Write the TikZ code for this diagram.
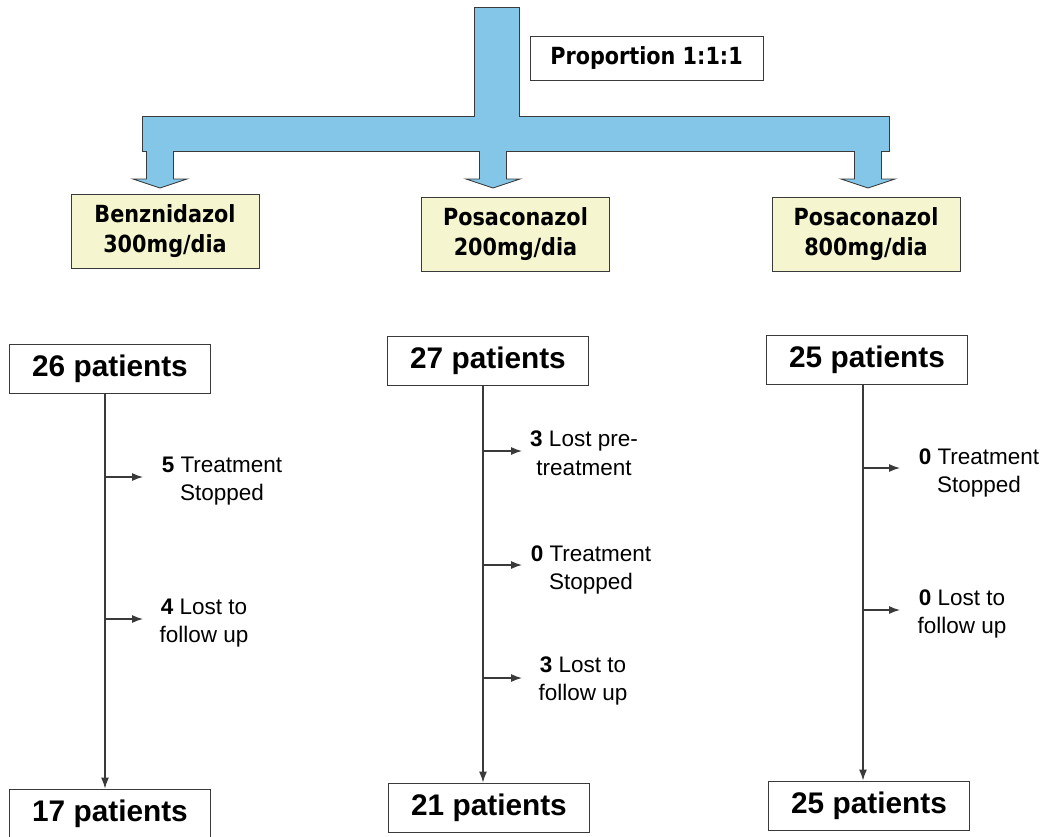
\documentclass[tikz,border=0pt]{standalone}
\usepackage{fontspec}
\setmainfont{Liberation Sans}
\newfontfamily\tah[FakeStretch=0.88]{DejaVu Sans}
\usetikzlibrary{arrows.meta}
\definecolor{barblue}{HTML}{84C6E8}
\definecolor{drugfill}{HTML}{F5F5CF}
\definecolor{edge}{HTML}{3A3A3A}
\tikzset{
  blueshape/.style={fill=barblue, draw=edge, line width=0.9pt, line join=miter},
  drugbox/.style={draw=edge, line width=1pt, fill=drugfill, minimum width=188pt, minimum height=74pt, inner sep=0pt, align=center, font=\tah\bfseries\fontsize{23.6}{30}\selectfont},
  propbox/.style={draw=edge, line width=1pt, fill=white, minimum width=233pt, minimum height=44pt, inner sep=0pt, font=\tah\bfseries\fontsize{23.6}{27}\selectfont},
  patbox/.style={draw=edge, line width=1pt, fill=white, minimum width=201pt, minimum height=49pt, inner sep=0pt, font=\bfseries\fontsize{29.8}{33}\selectfont},
  note/.style={align=center, inner sep=0pt, font=\fontsize{22.5}{28.5}\selectfont},
  flow/.style={draw=edge, line width=1.2pt, -{Latex[length=11pt,width=8pt]}},
}
\begin{document}
\begin{tikzpicture}[x=1pt,y=-1pt]
\useasboundingbox (0,0) rectangle (1043,836);
% big T
\draw[blueshape] (142,116) -- (474,116) -- (474,7) -- (519,7) -- (519,116) -- (889,116) -- (889,151) -- (142,151) -- cycle;
% block arrows
\foreach \c in {160,493,868}{
  \draw[blueshape] (\c-13.5,151) -- (\c-13.5,179) -- (\c-27,179) -- (\c,188) -- (\c+27,179) -- (\c+13.5,179) -- (\c+13.5,151);
}
\node[propbox] (prop) at (646.5,58) {Proportion 1:1:1};
% drug boxes
\node[drugbox] (d1) at (165,231.5) {Benznidazol\\300mg/dia};
\node[drugbox] (d2) at (515.5,234) {Posaconazol\\200mg/dia};
\node[drugbox] (d3) at (866,234) {Posaconazol\\800mg/dia};
% patient boxes
\node[patbox] (t1) at (110,368.5) {26 patients};
\node[patbox] (t2) at (488,361) {27 patients};
\node[patbox] (t3) at (867,359.5) {25 patients};
\node[patbox] (b1) at (110,813.5) {17 patients};
\node[patbox] (b2) at (489,807.5) {21 patients};
\node[patbox] (b3) at (869,805.5) {25 patients};
% vertical line positions
\coordinate (l1) at (105,0);
\coordinate (l2) at (483,0);
\coordinate (l3) at (863,0);
\draw[flow] (t1.south -| l1) -- (b1.north -| l1);
\draw[flow] (t2.south -| l2) -- (b2.north -| l2);
\draw[flow] (t3.south -| l3) -- (b3.north -| l3);
% side arrows
\coordinate (s11) at (105,477); \coordinate (e11) at (143,477);
\coordinate (s12) at (105,619); \coordinate (e12) at (143,619);
\coordinate (s21) at (483,451); \coordinate (e21) at (522,451);
\coordinate (s22) at (483,565); \coordinate (e22) at (522,565);
\coordinate (s23) at (483,678); \coordinate (e23) at (522,678);
\coordinate (s31) at (863,468); \coordinate (e31) at (900,468);
\coordinate (s32) at (863,610); \coordinate (e32) at (900,610);
\foreach \i in {11,12,21,22,23,31,32}{\draw[flow] (s\i) -- (e\i);}
% notes
\node[note] (n11) at (222,481) {\textbf{5} Treatment\\Stopped};
\node[note] (n12) at (204,623) {\textbf{4} Lost to\\follow up};
\node[note] (n21) at (584,453) {\textbf{3} Lost pre-\\treatment};
\node[note] (n22) at (591,570) {\textbf{0} Treatment\\Stopped};
\node[note] (n23) at (583,681) {\textbf{3} Lost to\\follow up};
\node[note] (n31) at (979,473) {\textbf{0} Treatment\\Stopped};
\node[note] (n32) at (962,614) {\textbf{0} Lost to\\follow up};
\end{tikzpicture}
\end{document}
